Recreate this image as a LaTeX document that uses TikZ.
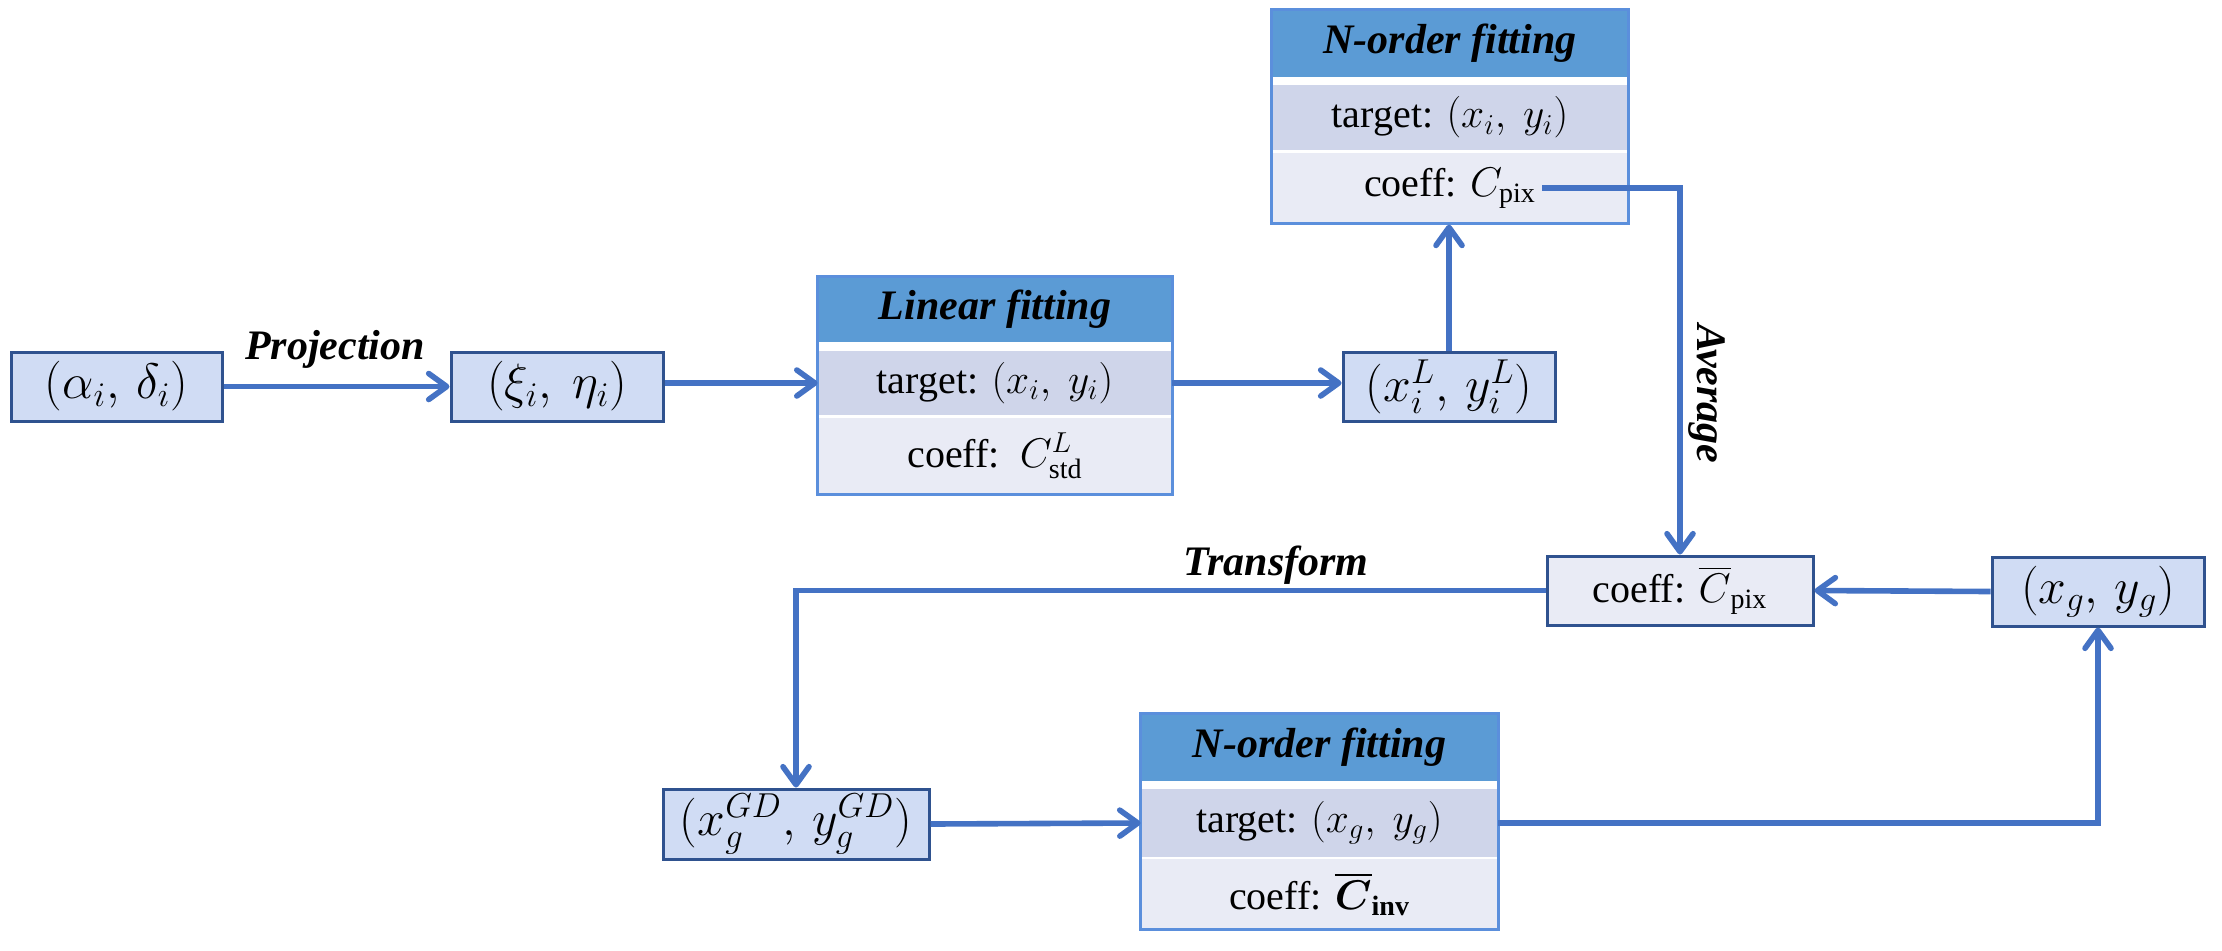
\documentclass[tikz,border=0pt]{standalone}
\usepackage{amsmath}
\usepackage{fontspec}
\setmainfont{Liberation Serif}
\usetikzlibrary{arrows.meta,fit,calc}
\definecolor{arrowblue}{HTML}{4472C4}
\definecolor{boxborder}{HTML}{2F528F}
\definecolor{boxfill}{HTML}{D0DCF4}
\definecolor{hdrfill}{HTML}{5B9BD5}
\definecolor{tgtfill}{HTML}{CFD5EA}
\definecolor{cofill}{HTML}{E9EBF5}
\definecolor{outerb}{HTML}{5B8FDC}
\begin{document}
\begin{tikzpicture}[x=0.5pt,y=-0.5pt,
  smallbox/.style={draw=boxborder, line width=1.5pt, fill=boxfill, minimum height=34.5pt, inner sep=0pt, font=\fontsize{25}{30}\selectfont},
  rowbase/.style={inner sep=0pt, draw=none, font=\fontsize{20}{24}\selectfont},
  hdr/.style={rowbase, fill=hdrfill, font=\fontsize{21}{25}\selectfont\bfseries\itshape},
  tgt/.style={rowbase, fill=tgtfill},
  coe/.style={rowbase, fill=cofill},
  txt/.style={inner sep=3pt, font=\fontsize{20}{24}\selectfont},
  outer/.style={draw=outerb, line width=1.2pt, inner sep=0pt},
  lbl/.style={inner sep=0pt, font=\fontsize{21}{25}\selectfont\bfseries\itshape},
  conn/.style={draw=arrowblue, line width=2.8pt, -{Straight Barb[length=9pt,width=13pt,round]}}
]
\useasboundingbox (0,0) rectangle (2222,950);

% simple boxes
\node[smallbox, minimum width=105.5pt] (A) at (116.5,386.5) {$(\alpha_i,\,\delta_i)$};
\node[smallbox, minimum width=106pt] (B) at (557,386.5) {$(\xi_i,\ \eta_i)$};
\node[smallbox, minimum width=106pt] (XL) at (1449,386.5) {$(x_i^L,\,y_i^L)$};
\node[smallbox, fill=cofill, minimum width=133pt, font=\fontsize{20}{24}\selectfont] (CB) at (1680,590.5) {coeff: $\overline{C}_{\mathrm{pix}}$};
\node[smallbox, minimum width=106pt] (XG) at (2098,591.5) {$(x_g,\,y_g)$};
\node[smallbox, minimum width=133pt, minimum height=35pt] (GD) at (796,824) {$(x_g^{GD},\,y_g^{GD})$};

% Linear fitting block
\node[hdr, minimum width=177pt, minimum height=32.5pt] (LH) at (995,309.5) {Linear fitting};
\node[tgt, minimum width=177pt, minimum height=32pt] (LT) at (995,383) {target: $(x_i,\ y_i)$};
\node[coe, minimum width=177pt, minimum height=38pt] (LC) at (995,456) {coeff:\ \ $C^L_{\mathrm{std}}$};
\node[outer, fit=(LH)(LT)(LC)] (L) {};

% N-order fitting (top)
\node[hdr, minimum width=178pt, minimum height=33.5pt] (NH) at (1450,43.5) {N-order fitting};
\node[tgt, minimum width=178pt, minimum height=32.5pt] (NT) at (1450,117.5) {target: $(x_i,\ y_i)$};
\node[coe, minimum width=178pt, minimum height=35pt] (NC) at (1450,188) {};
\node[txt] (NCt) at (NC) {coeff: $C_{\mathrm{pix}}$};
\node[outer, fit=(NH)(NT)(NC)] (N) {};

% N-order fitting (bottom)
\node[hdr, minimum width=178.5pt, minimum height=33.5pt] (MH) at (1319.5,747.5) {N-order fitting};
\node[tgt, minimum width=178.5pt, minimum height=34pt] (MT) at (1319.5,823) {target: $(x_g,\ y_g)$};
\node[coe, minimum width=178.5pt, minimum height=35pt] (MC) at (1319.5,894) {coeff: $\boldsymbol{\overline{C}}_{\mathbf{inv}}$};
\node[outer, fit=(MH)(MT)(MC)] (M) {};

% labels
\node[lbl] (projlbl) at (335,349) {Projection};
\node[lbl, rotate=-90] (avglbl) at (1707,394) {Average};
\node[lbl] (trlbl) at (1276,565) {Transform};

% connectors
\draw[conn] (A.east) -- (B.west);
\draw[conn] (B.east |- LT.west) -- (LT.west);
\draw[conn] (LT.east) -- (LT.east -| XL.west);
\draw[conn] (XL.north) -- (XL.north |- N.south);
\draw[conn] (NCt.east) -| (CB.north);
\draw[conn] (XG.west) -- (CB.east);
\draw[conn] (CB.west) -| (GD.north);
\draw[conn] (GD.east) -- (MT.west);
\draw[conn] (MT.east) -| (XG.south);
\end{tikzpicture}
\end{document}
